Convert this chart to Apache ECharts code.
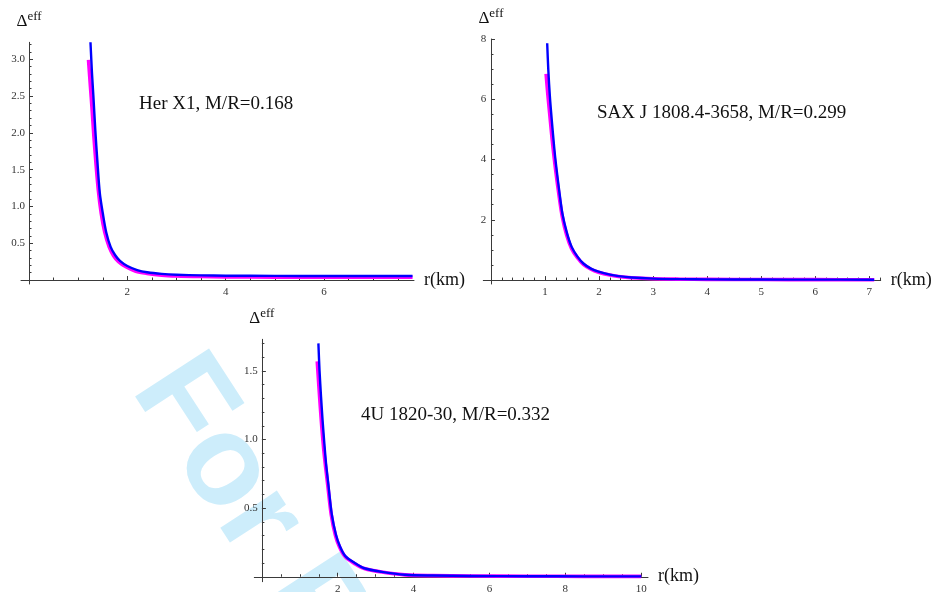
<!DOCTYPE html>
<html>
<head>
<meta charset="utf-8">
<script src="https://cdn.jsdelivr.net/npm/echarts@6/dist/echarts.min.js"></script>
<style>
html,body{margin:0;padding:0;background:#fff;}
#c{width:935px;height:592px;}
</style>
</head>
<body>
<div id="c"></div>
<script>
// ---------- Data ----------
// Panel 1: Her X1, M/R=0.168
const herBlueR = [1.25,1.28,1.31,1.35,1.39,1.44,1.5,1.57,1.66,1.75,1.85,2.0,2.2,2.4,2.7,3.0,3.5,4.0,5.0,6.0,7.0,7.8];
const herBlueD = [3.23,2.82,2.49,2.02,1.62,1.18,0.91,0.65,0.45,0.34,0.26,0.19,0.135,0.105,0.083,0.072,0.063,0.059,0.056,0.055,0.054,0.054];
const herMagR  = [1.21,1.25,1.28,1.32,1.36,1.41,1.47,1.54,1.63,1.72,1.82,1.97,2.17,2.4,2.7,3.0,3.5,4.0,5.0,6.0,7.0,7.8];
const herMagD  = [2.99,2.62,2.35,1.95,1.6,1.22,0.9,0.65,0.45,0.33,0.25,0.18,0.12,0.09,0.066,0.055,0.047,0.043,0.04,0.038,0.037,0.037];
// Panel 2: SAX J 1808.4-3658, M/R=0.299
const saxBlueR = [1.04,1.06,1.09,1.13,1.17,1.2,1.26,1.32,1.4,1.49,1.6,1.71,1.85,1.99,2.2,2.36,2.6,3.0,3.5,4.0,5.0,6.0,7.09];
const saxBlueD = [7.86,7.0,6.09,5.2,4.4,3.88,3.0,2.22,1.6,1.11,0.78,0.55,0.38,0.28,0.18,0.13,0.085,0.05,0.032,0.025,0.018,0.015,0.013];
const saxMagR  = [1.02,1.05,1.09,1.13,1.17,1.2,1.26,1.32,1.4,1.49,1.6,1.71,1.85,1.99,2.2,2.36,2.6,3.0,3.5,4.0,5.0,6.0,7.09];
const saxMagD  = [6.84,6.2,5.45,4.7,4.05,3.6,2.8,2.1,1.5,1.05,0.74,0.52,0.36,0.26,0.165,0.12,0.078,0.045,0.03,0.023,0.017,0.014,0.012];
// Panel 3: 4U 1820-30, M/R=0.332
const fuBlueR = [1.49,1.52,1.56,1.6,1.65,1.69,1.75,1.84,1.95,2.06,2.2,2.45,2.7,3.16,3.77,4.5,5.5,7.0,8.5,10.0];
const fuBlueD = [1.70,1.5,1.31,1.14,0.96,0.83,0.68,0.46,0.31,0.22,0.15,0.10,0.062,0.036,0.015,0.009,0.006,0.004,0.003,0.003];
const fuMagR  = [1.46,1.5,1.54,1.58,1.63,1.68,1.74,1.83,1.94,2.05,2.2,2.45,2.7,3.16,3.77,4.5,5.5,7.0,8.5,10.0];
const fuMagD  = [1.57,1.4,1.24,1.09,0.93,0.8,0.66,0.45,0.3,0.215,0.145,0.095,0.06,0.034,0.014,0.008,0.005,0.004,0.003,0.003];

// Tick labels
const herXTicks = [2,4,6];
const herYTicks = [0.5,1.0,1.5,2.0,2.5,3.0];
const saxXTicks = [1,2,3,4,5,6,7];
const saxYTicks = [2,4,6,8];
const fuXTicks  = [2,4,6,8,10];
const fuYTicks  = [0.5,1.0,1.5];

const labels = ['Her X1, M/R=0.168','SAX J 1808.4-3658, M/R=0.299','4U 1820-30, M/R=0.332'];
const xName = 'r(km)';

// ---------- helpers ----------
function steps(step, to, majors){
  const out=[];
  for(let i=1;i*step<=to+1e-9;i++){
    const v=+(i*step).toFixed(4);
    if(!majors.some(m=>Math.abs(m-v)<1e-6)) out.push(v);
  }
  return out;
}
function zip(a,b){return a.map((v,i)=>[v,b[i]]);}
const AX = '#3a3a3a';
const serif = '"Liberation Serif","Times New Roman",serif';

const panels = [
  {grid:{left:21,top:42.3,width:393,height:241.7}, x:[-0.163,7.83], y:[-0.054,3.23], ylm:-4, xlm:3,
   xt:herXTicks, yt:herYTicks, xm:steps(0.5,7.6,herXTicks), ym:steps(0.1,3.2,herYTicks), yfmt:v=>v.toFixed(1),
   blue:zip(herBlueR,herBlueD), mag:zip(herMagR,herMagD)},
  {grid:{left:483.3,top:39,width:397.4,height:245}, x:[-0.142,7.21], y:[-0.13,8], ylm:-3, xlm:3,
   xt:saxXTicks, yt:saxYTicks, xm:steps(0.2,7.2,saxXTicks), ym:steps(0.5,8,saxYTicks), yfmt:v=>String(v),
   blue:zip(saxBlueR,saxBlueD), mag:zip(saxMagR,saxMagD)},
  {grid:{left:254.3,top:339.3,width:393.7,height:242.4}, x:[-0.2,10.18], y:[-0.036,1.73], ylm:-3.5, xlm:2,
   xt:fuXTicks, yt:fuYTicks, xm:steps(0.5,10,fuXTicks), ym:steps(0.1,1.7,fuYTicks), yfmt:v=>v.toFixed(1),
   blue:zip(fuBlueR,fuBlueD), mag:zip(fuMagR,fuMagD)}
];

const grid=[], xAxis=[], yAxis=[], series=[];
panels.forEach((p,i)=>{
  grid.push(Object.assign({outerBoundsMode:'none', containLabel:false}, p.grid));
  xAxis.push({
    gridIndex:i, type:'value', min:p.x[0], max:p.x[1], position:'bottom',
    axisLine:{onZero:true, lineStyle:{color:AX,width:1}},
    axisTick:{show:true, inside:true, length:4, customValues:p.xt, lineStyle:{color:AX}},
    axisLabel:{customValues:p.xt, formatter:v=>String(v), fontFamily:serif, fontSize:11, color:'#333', margin:p.xlm},
    splitLine:{show:false},
    name:xName, nameLocation:'end', nameGap:10,
    nameTextStyle:{fontFamily:serif, fontSize:18, color:'#111'}
  });
  xAxis.push({
    gridIndex:i, type:'value', min:p.x[0], max:p.x[1], position:'bottom',
    axisLine:{show:false, onZero:true},
    axisTick:{show:true, inside:true, length:2.5, customValues:p.xm, lineStyle:{color:AX}},
    axisLabel:{show:false}, splitLine:{show:false}
  });
  yAxis.push({
    gridIndex:i, type:'value', min:p.y[0], max:p.y[1], position:'left',
    axisLine:{onZero:true, lineStyle:{color:AX,width:1}},
    axisTick:{show:true, inside:true, length:4, customValues:p.yt, lineStyle:{color:AX}},
    axisLabel:{customValues:p.yt, formatter:p.yfmt, fontFamily:serif, fontSize:11, color:'#333', margin:p.ylm},
    splitLine:{show:false},
    name:'{d|Δ}{e|eff}', nameLocation:'end', nameGap:12,
    nameTextStyle:{rich:{
      d:{fontFamily:serif, fontSize:17, color:'#111', lineHeight:20, verticalAlign:'bottom'},
      e:{fontFamily:serif, fontSize:13, color:'#111', lineHeight:20, verticalAlign:'top', padding:[0,0,8,0]}
    }}
  });
  yAxis.push({
    gridIndex:i, type:'value', min:p.y[0], max:p.y[1], position:'left',
    axisLine:{show:false, onZero:true},
    axisTick:{show:true, inside:true, length:2.5, customValues:p.ym, lineStyle:{color:AX}},
    axisLabel:{show:false}, splitLine:{show:false}
  });
  series.push({
    type:'line', xAxisIndex:2*i, yAxisIndex:2*i, data:p.mag, showSymbol:false, symbol:'none',
    smooth:0.3, lineStyle:{color:'#ff00ff', width:3.6, join:'round', cap:'butt'}, z:3, silent:true
  });
  series.push({
    type:'line', xAxisIndex:2*i, yAxisIndex:2*i, data:p.blue, showSymbol:false, symbol:'none',
    smooth:0.3, lineStyle:{color:'#0000ff', width:2.4, join:'round', cap:'butt'}, z:4, silent:true
  });
});

const chart = echarts.init(document.getElementById('c'), null, {renderer:'canvas'});
chart.setOption({
  backgroundColor:'#ffffff',
  animation:false,
  grid, xAxis, yAxis, series,
  graphic:{ z:-10, zlevel:0, elements:[
    {type:'text', x:160, y:370, rotation:-57*Math.PI/180, z:-10, silent:true,
     style:{text:'For Peer Review', fontFamily:'"Liberation Sans",Arial,sans-serif', fontWeight:'bold',
            fontSize:128, fill:'#cdedfb', align:'left', verticalAlign:'middle'}},
    {type:'text', x:139, y:104, z:10, style:{text:labels[0], fontFamily:serif, fontSize:19, fill:'#111', align:'left', verticalAlign:'middle'}},
    {type:'text', x:597, y:113, z:10, style:{text:labels[1], fontFamily:serif, fontSize:19, fill:'#111', align:'left', verticalAlign:'middle'}},
    {type:'text', x:361, y:415, z:10, style:{text:labels[2], fontFamily:serif, fontSize:19, fill:'#111', align:'left', verticalAlign:'middle'}}
  ]}
});
</script>
</body>
</html>
